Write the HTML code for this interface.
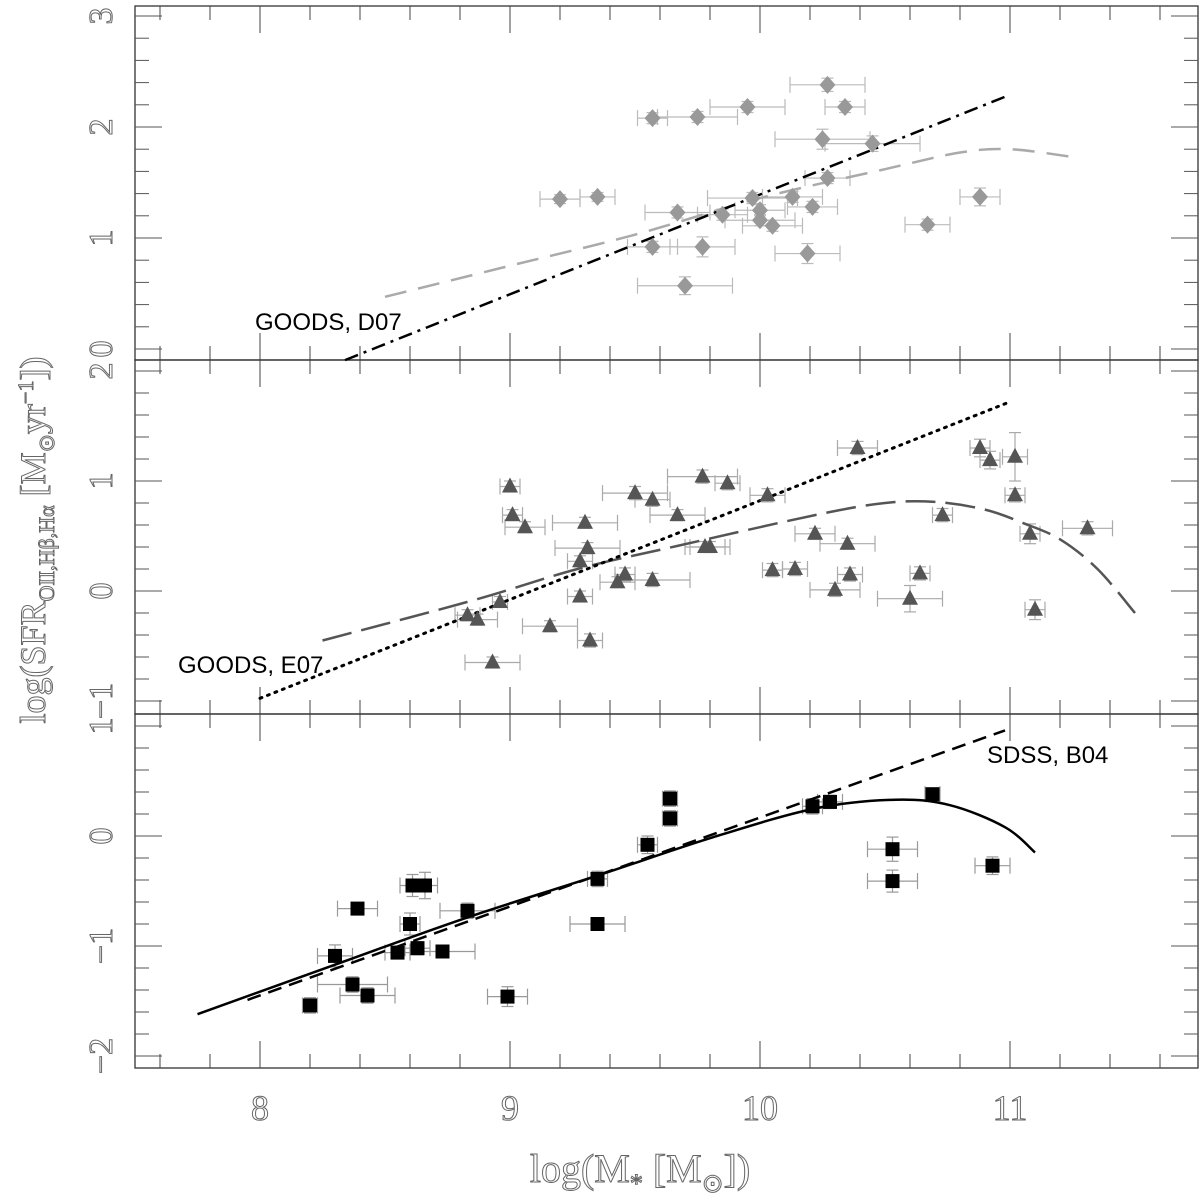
<!DOCTYPE html>
<html><head><meta charset="utf-8"><style>
html,body{margin:0;padding:0;background:#fff;}
svg{display:block;}
</style></head><body>
<svg id="chart" width="1200" height="1200" viewBox="0 0 1200 1200" xmlns="http://www.w3.org/2000/svg"></svg>
<script>
// ---------- data ----------
const xTickLabels = ["8","9","10","11"];
const xTickValues = [8,9,10,11];
const topYTickLabels = ["3","2","1","0"];
const topYTickValues = [3,2,1,0];
const midYTickLabels = ["2","1","0","-1"];
const midYTickValues = [2,1,0,-1];
const botYTickLabels = ["1","0","-1","-2"];
const botYTickValues = [1,0,-1,-2];

// top panel (GOODS, D07) diamonds
const d07Mass = [9.20,9.35,9.57,9.75,9.95,10.27,10.34,10.25,10.45,10.27,9.97,10.13,10.21,9.67,9.85,10.0,10.0,10.05,10.67,10.88,9.57,9.77,10.19,9.70];
const d07SFR  = [1.35,1.37,2.08,2.09,2.18,2.38,2.18,1.89,1.85,1.54,1.36,1.37,1.28,1.23,1.21,1.25,1.16,1.11,1.12,1.37,0.92,0.92,0.86,0.57];
const d07MassErr = [0.08,0.07,0.06,0.16,0.15,0.15,0.08,0.19,0.19,0.09,0.18,0.12,0.10,0.13,0.10,0.10,0.14,0.12,0.09,0.08,0.10,0.13,0.13,0.19];
const d07SFRErr = [0.04,0.04,0.05,0.05,0.05,0.06,0.05,0.09,0.07,0.05,0.05,0.05,0.05,0.05,0.05,0.05,0.05,0.05,0.05,0.08,0.05,0.09,0.09,0.08];
const d07LineMass = [8.34,11.0];
const d07LineSFR = [-0.10,2.29];
const d07CurveMass = [8.5,9.0,9.5,10.0,10.5,10.8,11.0,11.25];
const d07CurveSFR = [0.47,0.75,1.03,1.36,1.62,1.77,1.80,1.73];

// middle panel (GOODS, E07) triangles
const e07Mass = [9.0,9.01,9.06,9.30,9.50,9.57,9.77,9.87,9.67,10.03,10.39,10.88,10.92,11.02,11.02,10.73,11.08,11.31,9.31,9.28,9.80,9.78,10.22,10.35,9.46,9.43,9.57,10.05,10.14,10.36,10.64,10.30,10.60,11.10,9.28,8.96,8.83,8.87,9.16,9.32,8.93];
const e07SFR  = [0.95,0.69,0.58,0.62,0.89,0.83,1.04,0.98,0.69,0.87,1.30,1.30,1.19,1.22,0.87,0.69,0.52,0.57,0.39,0.27,0.40,0.40,0.52,0.43,0.15,0.08,0.10,0.19,0.20,0.15,0.16,0.01,-0.07,-0.17,-0.05,-0.10,-0.22,-0.26,-0.32,-0.45,-0.65];
const e07MassErr = [0.04,0.04,0.08,0.13,0.13,0.07,0.14,0.05,0.11,0.07,0.08,0.04,0.04,0.05,0.04,0.04,0.04,0.10,0.13,0.05,0.08,0.08,0.08,0.11,0.04,0.07,0.15,0.04,0.05,0.05,0.04,0.10,0.13,0.04,0.05,0.03,0.05,0.08,0.11,0.05,0.11];
const e07SFRErr = [0.05,0.05,0.05,0.05,0.06,0.06,0.06,0.06,0.05,0.06,0.06,0.08,0.08,0.22,0.06,0.06,0.09,0.06,0.05,0.05,0.05,0.05,0.05,0.05,0.06,0.05,0.06,0.06,0.06,0.06,0.06,0.06,0.12,0.09,0.05,0.05,0.05,0.05,0.05,0.06,0.05];
const e07LineMass = [8.0,11.0];
const e07LineSFR = [-0.975,1.72];
const e07CurveMass = [8.25,8.86,9.27,9.67,10.22,10.5,10.7,10.9,11.05,11.2,11.35,11.5];
const e07CurveSFR = [-0.45,-0.08,0.20,0.41,0.69,0.80,0.81,0.74,0.62,0.47,0.20,-0.20];

// bottom panel (SDSS, B04) squares
const b04Mass = [8.20,8.30,8.37,8.43,8.39,8.55,8.63,8.60,8.61,8.66,8.73,8.83,8.99,9.35,9.35,9.55,9.64,9.64,10.21,10.28,10.69,10.53,10.53,10.93];
const b04SFR  = [-1.54,-1.09,-1.35,-1.45,-0.66,-1.06,-1.02,-0.80,-0.45,-0.45,-1.05,-0.68,-1.46,-0.80,-0.39,-0.08,0.34,0.16,0.27,0.31,0.38,-0.12,-0.41,-0.27];
const b04MassErr = [0.03,0.07,0.14,0.11,0.08,0.05,0.05,0.04,0.05,0.05,0.13,0.11,0.08,0.11,0.04,0.04,0.03,0.03,0.04,0.05,0.03,0.10,0.10,0.07];
const b04SFRErr = [0.07,0.10,0.07,0.07,0.05,0.05,0.06,0.10,0.10,0.12,0.05,0.07,0.09,0.05,0.07,0.08,0.07,0.07,0.07,0.06,0.05,0.11,0.10,0.08];
const b04LineMass = [7.95,10.98];
const b04LineSFR = [-1.49,0.96];
const b04CurveMass = [7.75,8.3,8.83,9.35,9.8,10.22,10.54,10.76,10.98,11.10];
const b04CurveSFR = [-1.62,-1.17,-0.74,-0.36,-0.02,0.25,0.33,0.28,0.08,-0.15];

// ---------- geometry ----------
const svg = document.getElementById('chart');
const NS = 'http://www.w3.org/2000/svg';
const X0 = 135, X1 = 1198;
function xPix(v){ return 260 + (v - 8) * 250; }
const panels = [
  {name:'top', top:6, bottom:360, y0:349, k:111},
  {name:'middle', top:360, bottom:714, y0:591, k:110},
  {name:'bottom', top:714, bottom:1068, y0:836, k:110}
];
function yPixFn(p){ return v => p.y0 - v * p.k; }

function el(tag, attrs, parent){
  const e = document.createElementNS(NS, tag);
  for (const k in attrs) e.setAttribute(k, attrs[k]);
  (parent || svg).appendChild(e);
  return e;
}

panels.forEach(p => {
  const g = el('g', {});
  
  
  el('rect', {x:X0, y:p.top, width:X1-X0, height:p.bottom-p.top, fill:'none', stroke:'#333', 'stroke-width':1.3}, g);
  const yp = yPixFn(p);
  for (let i = 0; i <= 20; i++) {
    const v = 7.6 + i * 0.2;
    const x = xPix(v);
    if (x <= X0 || x >= X1) continue;
    const major = Math.abs(v - Math.round(v)) < 0.01;
    const L = major ? 27 : 14;
    el('line', {x1:x, x2:x, y1:p.bottom, y2:p.bottom-L, stroke:'#444', 'stroke-width':1}, g);
    el('line', {x1:x, x2:x, y1:p.top, y2:p.top+L, stroke:'#444', 'stroke-width':1}, g);
  }
  for (let i = -20; i <= 20; i++) {
    const v = i * 0.2;
    const y = yp(v);
    if (y <= p.top + 1 || y >= p.bottom - 1) continue;
    const major = Math.abs(v - Math.round(v)) < 0.01;
    const L = major ? 27 : 14;
    el('line', {x1:X0, x2:X0+L, y1:y, y2:y, stroke:'#555', 'stroke-width':1}, g);
    el('line', {x1:X1, x2:X1-L, y1:y, y2:y, stroke:'#555', 'stroke-width':1}, g);
  }
});

function yLabels(p, vals, labs){
  const yp = yPixFn(p);
  vals.forEach((v, i) => {
    const t = el('text', {x:0, y:0, transform:'translate(112,' + yp(v) + ') rotate(-90)', 'text-anchor':'middle',
      'font-family':'Liberation Serif, serif', 'font-size':34, fill:'#fff', stroke:'#666', 'stroke-width':1});
    t.textContent = labs[i].replace('-', '\u2212');
    
    
  });
}
yLabels(panels[0], topYTickValues, topYTickLabels);
yLabels(panels[1], midYTickValues, midYTickLabels);
yLabels(panels[2], botYTickValues, botYTickLabels);

xTickValues.forEach((v, i) => {
  const t = el('text', {x:xPix(v), y:1120, 'text-anchor':'middle', 'font-family':'Liberation Serif, serif', 'font-size':36, fill:'#fff', stroke:'#666', 'stroke-width':1});
  t.textContent = xTickLabels[i];
  
  
});

const xt = el('text', {x:640, y:1182, 'text-anchor':'middle', 'font-family':'Liberation Serif, serif', 'font-size':40, fill:'#fff', stroke:'#666', 'stroke-width':1});
xt.innerHTML = 'log(M<tspan font-size="26" dy="10">*</tspan><tspan dy="-10"> [M</tspan><tspan font-size="26" dy="10">\u2299</tspan><tspan dy="-10">])</tspan>';



const yt = el('text', {x:0, y:0, transform:'translate(45,540) rotate(-90)', 'text-anchor':'middle', 'font-family':'Liberation Serif, serif', 'font-size':36, fill:'#fff', stroke:'#666', 'stroke-width':1});
yt.innerHTML = 'log(SFR<tspan font-size="22" dy="9">OII,H\u03B2,H\u03B1</tspan><tspan dy="-9"> [M</tspan><tspan font-size="22" dy="9">\u2299</tspan><tspan dy="-9">yr</tspan><tspan font-size="22" dy="-12">\u22121</tspan><tspan dy="12">])</tspan>';



function errBars(p, xs, ys, xe, ye, color, name){
  const yp = yPixFn(p);
  const g = el('g', {stroke:color, 'stroke-width':1.2, fill:'none'});
  
  
  xs.forEach((x, i) => {
    const cx = xPix(x), cy = yp(ys[i]);
    const xl = xPix(x - xe[i]), xr = xPix(x + xe[i]);
    const yt2 = yp(ys[i] + ye[i]), yb = yp(ys[i] - ye[i]);
    el('line', {x1:xl, x2:xr, y1:cy, y2:cy}, g);
    el('line', {x1:xl, x2:xl, y1:cy-8, y2:cy+8}, g);
    el('line', {x1:xr, x2:xr, y1:cy-8, y2:cy+8}, g);
    el('line', {x1:cx, x2:cx, y1:yt2, y2:yb}, g);
    el('line', {x1:cx-6, x2:cx+6, y1:yt2, y2:yt2}, g);
    el('line', {x1:cx-6, x2:cx+6, y1:yb, y2:yb}, g);
  });
}
function line(p, xs, ys, attrs, name){
  const yp = yPixFn(p);
  const d = xs.map((x, i) => (i ? 'L' : 'M') + xPix(x).toFixed(1) + ' ' + yp(ys[i]).toFixed(1)).join(' ');
  const path = el('path', Object.assign({d:d, fill:'none'}, attrs));
  
  
}
function smooth(p, xs, ys, attrs, name){
  const yp = yPixFn(p);
  const P = xs.map((x, i) => [xPix(x), yp(ys[i])]);
  let d = 'M' + P[0][0] + ' ' + P[0][1];
  for (let i = 0; i < P.length - 1; i++) {
    const p0 = P[Math.max(0, i-1)], p1 = P[i], p2 = P[i+1], p3 = P[Math.min(P.length-1, i+2)];
    const c1 = [p1[0] + (p2[0]-p0[0])/6, p1[1] + (p2[1]-p0[1])/6];
    const c2 = [p2[0] - (p3[0]-p1[0])/6, p2[1] - (p3[1]-p1[1])/6];
    d += ' C' + c1.join(' ') + ' ' + c2.join(' ') + ' ' + p2.join(' ');
  }
  const path = el('path', Object.assign({d:d, fill:'none'}, attrs));
  
  
}

const pT = panels[0], ypT = yPixFn(pT);
errBars(pT, d07Mass, d07SFR, d07MassErr, d07SFRErr, '#bbb', 'd07-error-bars');
smooth(pT, d07CurveMass, d07CurveSFR, {stroke:'#aaa', 'stroke-width':2.5, 'stroke-dasharray':'22 12'}, 'd07-model-curve');
line(pT, d07LineMass, d07LineSFR, {stroke:'#000', 'stroke-width':2.5, 'stroke-dasharray':'14 6 3 6'}, 'd07-relation-line');
d07Mass.forEach((x, i) => {
  const cx = xPix(x), cy = ypT(d07SFR[i]);
  const m = el('path', {d:'M'+cx+' '+(cy-9)+' L'+(cx+8)+' '+cy+' L'+cx+' '+(cy+9)+' L'+(cx-8)+' '+cy+' Z', fill:'#999'});
  
  
});

const pM = panels[1], ypM = yPixFn(pM);
errBars(pM, e07Mass, e07SFR, e07MassErr, e07SFRErr, '#aaa', 'e07-error-bars');
smooth(pM, e07CurveMass, e07CurveSFR, {stroke:'#555', 'stroke-width':2.5, 'stroke-dasharray':'30 10'}, 'e07-model-curve');
line(pM, e07LineMass, e07LineSFR, {stroke:'#000', 'stroke-width':3, 'stroke-dasharray':'2 6', 'stroke-linecap':'round'}, 'e07-relation-line');
e07Mass.forEach((x, i) => {
  const cx = xPix(x), cy = ypM(e07SFR[i]);
  const m = el('path', {d:'M'+cx+' '+(cy-9)+' L'+(cx+8)+' '+(cy+6)+' L'+(cx-8)+' '+(cy+6)+' Z', fill:'#555'});
  
  
});

const pB = panels[2], ypB = yPixFn(pB);
errBars(pB, b04Mass, b04SFR, b04MassErr, b04SFRErr, '#999', 'b04-error-bars');
line(pB, b04LineMass, b04LineSFR, {stroke:'#000', 'stroke-width':2.5, 'stroke-dasharray':'14 8'}, 'b04-relation-line');
smooth(pB, b04CurveMass, b04CurveSFR, {stroke:'#000', 'stroke-width':2.5}, 'b04-model-curve');
b04Mass.forEach((x, i) => {
  const cx = xPix(x), cy = ypB(b04SFR[i]);
  const m = el('rect', {x:cx-7, y:cy-7, width:14, height:14, fill:'#000'});
  
  
});

[['GOODS, D07', 255, 330, 'd07-label'], ['GOODS, E07', 178, 673, 'e07-label'], ['SDSS, B04', 987, 763, 'b04-label']].forEach(a => {
  const t = el('text', {x:a[1], y:a[2], 'font-family':'Liberation Sans, sans-serif', 'font-size':24, fill:'#000'});
  t.textContent = a[0];
  
  
});
</script>
</body></html>
